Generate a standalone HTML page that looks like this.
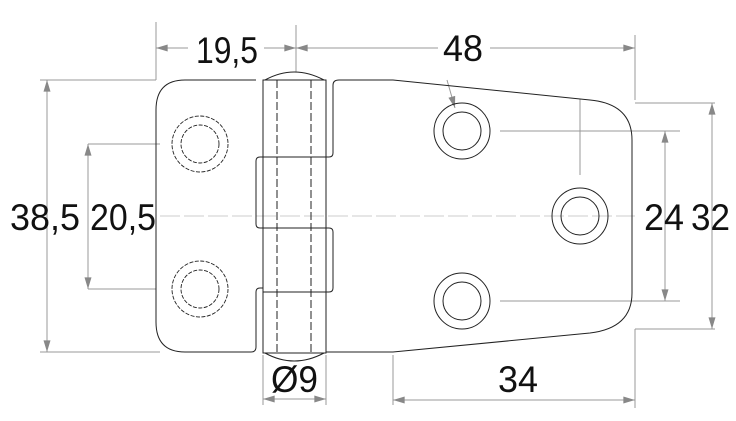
<!DOCTYPE html>
<html><head><style>html,body{margin:0;padding:0;background:#fff}svg{display:block}</style></head><body>
<svg width="736" height="421" viewBox="0 0 736 421" xmlns="http://www.w3.org/2000/svg">
<defs>
<marker id="a" viewBox="0 0 10 6" refX="10" refY="3" markerWidth="18" markerHeight="7" markerUnits="userSpaceOnUse" orient="auto-start-reverse"><path d="M0,0L10,3L0,6z" fill="#888"/></marker>
</defs>
<g fill="none" stroke="#999" stroke-width="1">
<line x1="156" y1="22" x2="156" y2="80"/>
<line x1="296" y1="25" x2="296" y2="72"/>
<line x1="635" y1="35" x2="635" y2="100"/>
<line x1="40" y1="80" x2="156" y2="80"/>
<line x1="40" y1="352" x2="160" y2="352"/>
<line x1="88" y1="144" x2="160" y2="144"/>
<line x1="88" y1="289" x2="156" y2="289"/>
<line x1="500" y1="131" x2="680" y2="131"/>
<line x1="500" y1="301" x2="680" y2="301"/>
<line x1="635" y1="103" x2="715" y2="103"/>
<line x1="635" y1="329" x2="715" y2="329"/>
<line x1="635" y1="329" x2="635" y2="408"/>
<line x1="263" y1="355" x2="263" y2="405"/>
<line x1="326" y1="355" x2="326" y2="405"/>
<line x1="393" y1="355" x2="393" y2="405"/>
<line x1="580" y1="99" x2="580" y2="175"/>
<line x1="156" y1="48" x2="188" y2="48" marker-start="url(#a)"/>
<line x1="264" y1="48" x2="296" y2="48" marker-end="url(#a)"/>
<line x1="296" y1="48" x2="438" y2="48" marker-start="url(#a)"/>
<line x1="490" y1="48" x2="635" y2="48" marker-end="url(#a)"/>
<line x1="47" y1="80" x2="47" y2="352" marker-start="url(#a)" marker-end="url(#a)"/>
<line x1="88" y1="144" x2="88" y2="289" marker-start="url(#a)" marker-end="url(#a)"/>
<line x1="665" y1="131" x2="665" y2="301" marker-start="url(#a)" marker-end="url(#a)"/>
<line x1="712" y1="103" x2="712" y2="329" marker-start="url(#a)" marker-end="url(#a)"/>
<line x1="263" y1="399" x2="326" y2="399" marker-start="url(#a)" marker-end="url(#a)"/>
<line x1="393" y1="400" x2="635" y2="400" marker-start="url(#a)" marker-end="url(#a)"/>
<line x1="447" y1="80" x2="455" y2="108" marker-end="url(#a)"/>
<line x1="160" y1="216" x2="635" y2="216" stroke="#ccc" stroke-dasharray="20 4"/>
</g>
<g fill="none" stroke="#222" stroke-width="1">
<path d="M256,80 H185 Q156,80 156,110 V322 Q156,352 185,352 H251 Q256,352 256,347 V292 Q256,288 260,288 H263 M263,228 H260 Q256,228 256,224 V161 Q256,157 260,157 H263"/>
<rect x="263" y="80" width="63" height="273"/>
<path d="M265,80 Q294,64 324,80 M265,353 Q294,369 324,353"/>
<line x1="263" y1="157" x2="326" y2="157"/><line x1="263" y1="228" x2="326" y2="228"/><line x1="263" y1="292" x2="326" y2="292"/>
<line x1="277" y1="80" x2="277" y2="353" stroke-dasharray="8 3"/>
<line x1="311" y1="80" x2="311" y2="353" stroke-dasharray="8 3"/>
<path d="M326,157 H329 Q333,157 333,153 V85 Q333,80 339,80 H393 L590,100 Q632,104 632,140 V293 Q632,328 590,333 L393,352 H326"/>
<path d="M326,228 H329 Q333,228 333,232 V288 Q333,292 329,292 H326"/>
<g stroke-dasharray="4 1.5" stroke-width="0.9">
<circle cx="200" cy="144" r="28"/><circle cx="200" cy="144" r="19"/>
<circle cx="200" cy="289" r="28"/><circle cx="200" cy="289" r="19"/>
</g>
<circle cx="462" cy="131" r="28"/><circle cx="462" cy="131" r="19"/>
<circle cx="462" cy="301" r="28"/><circle cx="462" cy="301" r="19"/>
<circle cx="580" cy="216" r="28"/><circle cx="580" cy="216" r="19"/>
</g>
<g font-family="Liberation Sans, sans-serif" font-size="37" fill="#111">
<text x="196" y="63" textLength="62" lengthAdjust="spacingAndGlyphs">19,5</text>
<text x="443" y="61" textLength="40" lengthAdjust="spacingAndGlyphs">48</text>
<text x="10" y="230" textLength="70" lengthAdjust="spacingAndGlyphs">38,5</text>
<text x="90" y="230" textLength="66" lengthAdjust="spacingAndGlyphs">20,5</text>
<text x="644" y="230" textLength="40" lengthAdjust="spacingAndGlyphs">24</text>
<text x="691" y="230" textLength="39" lengthAdjust="spacingAndGlyphs">32</text>
<text x="271" y="392" textLength="47" lengthAdjust="spacingAndGlyphs">Ø9</text>
<text x="498" y="392" textLength="40" lengthAdjust="spacingAndGlyphs">34</text>
</g>
</svg>
</body></html>
